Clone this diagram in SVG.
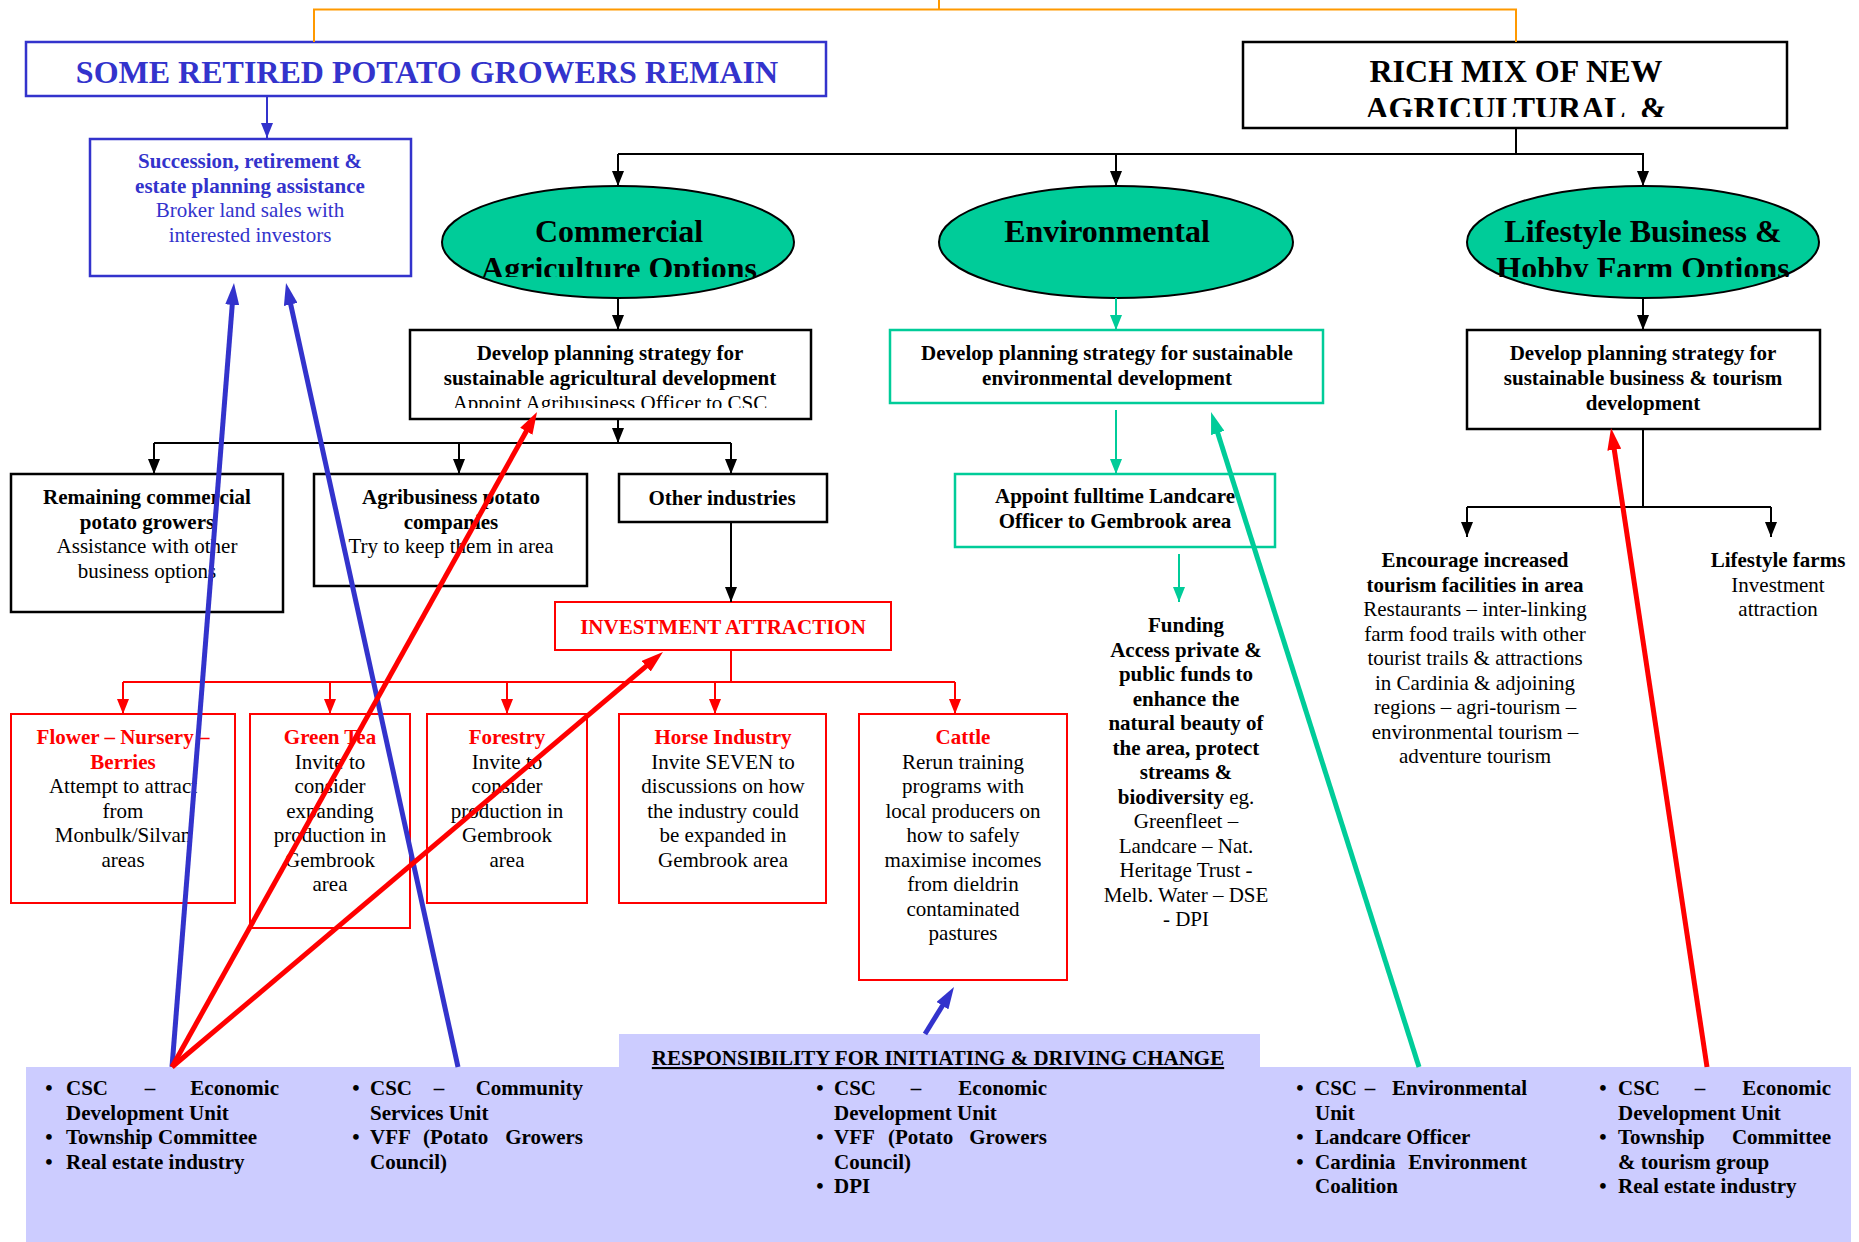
<svg xmlns="http://www.w3.org/2000/svg" width="1859" height="1242" viewBox="0 0 1859 1242">
<style>
text { font-family: "Liberation Serif", "Times New Roman", serif; font-size: 21px; fill: #000; }
.c { text-anchor: middle; }
.e { text-anchor: end; }
.b { font-weight: bold; }
.big { font-size: 32px; font-weight: bold; }
.blue { fill: #3333CC; }
.red { fill: #FF0000; }
.box { fill: #fff; stroke: #000; stroke-width: 2.5; }
.bbox { fill: #fff; stroke: #3333CC; stroke-width: 2.5; }
.gbox { fill: #fff; stroke: #00CC99; stroke-width: 2.5; }
.rbox { fill: #fff; stroke: #FF0000; stroke-width: 2; }
.ell { fill: #00CC99; stroke: #000; stroke-width: 2; }
.ck { stroke: #000; stroke-width: 2; fill: none; }
.cg { stroke: #00CC99; stroke-width: 2; fill: none; }
.cr { stroke: #FF0000; stroke-width: 2; fill: none; }
.cb { stroke: #3333CC; stroke-width: 2; fill: none; }
.co { stroke: #FF9900; stroke-width: 2; fill: none; }
.long { stroke-width: 5; }
</style>
<defs>
<marker id="ak" viewBox="0 0 15 12" refX="15" refY="6" markerWidth="15" markerHeight="12" markerUnits="userSpaceOnUse" orient="auto"><path d="M0,0 L15,6 L0,12 z" fill="#000"/></marker>
<marker id="ag" viewBox="0 0 15 12" refX="15" refY="6" markerWidth="15" markerHeight="12" markerUnits="userSpaceOnUse" orient="auto"><path d="M0,0 L15,6 L0,12 z" fill="#00CC99"/></marker>
<marker id="ar" viewBox="0 0 15 12" refX="15" refY="6" markerWidth="15" markerHeight="12" markerUnits="userSpaceOnUse" orient="auto"><path d="M0,0 L15,6 L0,12 z" fill="#FF0000"/></marker>
<marker id="ab" viewBox="0 0 15 12" refX="15" refY="6" markerWidth="15" markerHeight="12" markerUnits="userSpaceOnUse" orient="auto"><path d="M0,0 L15,6 L0,12 z" fill="#3333CC"/></marker>
<marker id="Lr" viewBox="0 0 22 14" refX="2" refY="7" markerWidth="22" markerHeight="14" markerUnits="userSpaceOnUse" orient="auto"><path d="M0,0 L22,7 L0,14 z" fill="#FF0000"/></marker>
<marker id="Lb" viewBox="0 0 22 14" refX="2" refY="7" markerWidth="22" markerHeight="14" markerUnits="userSpaceOnUse" orient="auto"><path d="M0,0 L22,7 L0,14 z" fill="#3333CC"/></marker>
<marker id="Lg" viewBox="0 0 22 14" refX="2" refY="7" markerWidth="22" markerHeight="14" markerUnits="userSpaceOnUse" orient="auto"><path d="M0,0 L22,7 L0,14 z" fill="#00CC99"/></marker>
<clipPath id="clipRich"><rect x="1243" y="42" width="544" height="75"/></clipPath>
<clipPath id="clipCom"><rect x="442" y="186" width="352" height="91"/></clipPath>
<clipPath id="clipLife"><rect x="1467" y="186" width="352" height="91"/></clipPath>
<clipPath id="clipAgri"><rect x="410" y="330" width="401" height="78"/></clipPath>
</defs>

<g id="responsibility-band">
<path d="M26,1067 H619 V1034 H1260 V1067 H1851 V1242 H26 Z" fill="#CCCCFF"/>
<text x="938" y="1065" class="c b" text-decoration="underline">RESPONSIBILITY FOR INITIATING &amp; DRIVING CHANGE</text>
<g id="col1" class="b">
<text x="49" y="1095" class="c b">•</text><text x="66" y="1095" class="b">CSC</text><text x="150" y="1095" class="c b">–</text><text x="279" y="1095" class="e b">Economic</text>
<text x="66" y="1119.5" class="b">Development Unit</text>
<text x="49" y="1144" class="c b">•</text><text x="66" y="1144" class="b">Township Committee</text>
<text x="49" y="1168.5" class="c b">•</text><text x="66" y="1168.5" class="b">Real estate industry</text>
</g>
<g id="col2">
<text x="356" y="1095" class="c b">•</text><text x="370" y="1095" class="b">CSC</text><text x="439" y="1095" class="c b">–</text><text x="583" y="1095" class="e b">Community</text>
<text x="370" y="1119.5" class="b">Services Unit</text>
<text x="356" y="1144" class="c b">•</text><text x="370" y="1144" class="b">VFF</text><text x="423" y="1144" class="b">(Potato</text><text x="583" y="1144" class="e b">Growers</text>
<text x="370" y="1168.5" class="b">Council)</text>
</g>
<g id="col3">
<text x="820" y="1095" class="c b">•</text><text x="834" y="1095" class="b">CSC</text><text x="916" y="1095" class="c b">–</text><text x="1047" y="1095" class="e b">Economic</text>
<text x="834" y="1119.5" class="b">Development Unit</text>
<text x="820" y="1144" class="c b">•</text><text x="834" y="1144" class="b">VFF</text><text x="888" y="1144" class="b">(Potato</text><text x="1047" y="1144" class="e b">Growers</text>
<text x="834" y="1168.5" class="b">Council)</text>
<text x="820" y="1193" class="c b">•</text><text x="834" y="1193" class="b">DPI</text>
</g>
<g id="col4">
<text x="1300" y="1095" class="c b">•</text><text x="1315" y="1095" class="b">CSC</text><text x="1370" y="1095" class="c b">–</text><text x="1527" y="1095" class="e b">Environmental</text>
<text x="1315" y="1119.5" class="b">Unit</text>
<text x="1300" y="1144" class="c b">•</text><text x="1315" y="1144" class="b">Landcare Officer</text>
<text x="1300" y="1168.5" class="c b">•</text><text x="1315" y="1168.5" class="b">Cardinia</text><text x="1527" y="1168.5" class="e b">Environment</text>
<text x="1315" y="1193" class="b">Coalition</text>
</g>
<g id="col5">
<text x="1603" y="1095" class="c b">•</text><text x="1618" y="1095" class="b">CSC</text><text x="1700" y="1095" class="c b">–</text><text x="1831" y="1095" class="e b">Economic</text>
<text x="1618" y="1119.5" class="b">Development Unit</text>
<text x="1603" y="1144" class="c b">•</text><text x="1618" y="1144" class="b">Township</text><text x="1831" y="1144" class="e b">Committee</text>
<text x="1618" y="1168.5" class="b">&amp; tourism group</text>
<text x="1603" y="1193" class="c b">•</text><text x="1618" y="1193" class="b">Real estate industry</text>
</g>
</g>

<g id="retired-growers">
<rect x="26" y="42" width="800" height="54" class="bbox"/>
<text x="427" y="83" class="c big blue">SOME RETIRED POTATO GROWERS REMAIN</text>
</g>
<g id="succession">
<rect x="90" y="139" width="321" height="137" class="bbox"/>
<text x="250" y="168" class="c b blue">Succession, retirement &amp;</text>
<text x="250" y="192.5" class="c b blue">estate planning assistance</text>
<text x="250" y="217" class="c blue">Broker land sales with</text>
<text x="250" y="241.5" class="c blue">interested investors</text>
</g>
<g id="rich-mix">
<rect x="1243" y="42" width="544" height="86" class="box"/>
<text x="1516" y="82" class="c big">RICH MIX OF NEW</text>
<text x="1516" y="119" class="c big" clip-path="url(#clipRich)" xml:space="preserve">AGRICULTURAL  &amp;</text>
</g>
<g id="commercial">
<ellipse cx="618" cy="242" rx="176" ry="56" class="ell"/>
<text x="619" y="242" class="c big">Commercial</text>
<text x="619" y="279" class="c big" clip-path="url(#clipCom)">Agriculture Options</text>
</g>
<g id="environmental">
<ellipse cx="1116" cy="242" rx="177" ry="56" class="ell"/>
<text x="1107" y="242" class="c big">Environmental</text>
</g>
<g id="lifestyle">
<ellipse cx="1643" cy="242" rx="176" ry="56" class="ell"/>
<text x="1643" y="242" class="c big">Lifestyle Business &amp;</text>
<text x="1643" y="279" class="c big" clip-path="url(#clipLife)">Hobby Farm Options</text>
</g>
<g id="agri-strategy">
<rect x="410" y="330" width="401" height="89" class="box"/>
<text x="610" y="360" class="c b">Develop planning strategy for</text>
<text x="610" y="385" class="c b">sustainable agricultural development</text>
<text x="610" y="410" class="c" clip-path="url(#clipAgri)">Appoint Agribusiness Officer to CSC</text>
</g>
<g id="remaining-growers">
<rect x="11" y="474" width="272" height="138" class="box"/>
<text x="147" y="504" class="c b">Remaining commercial</text>
<text x="147" y="528.5" class="c b">potato growers</text>
<text x="147" y="553" class="c">Assistance with other</text>
<text x="147" y="577.5" class="c">business options</text>
</g>
<g id="agribusiness">
<rect x="314" y="474" width="273" height="112" class="box"/>
<text x="451" y="504" class="c b">Agribusiness potato</text>
<text x="451" y="528.5" class="c b">companies</text>
<text x="451" y="553" class="c">Try to keep them in area</text>
</g>
<g id="other-industries">
<rect x="619" y="474" width="208" height="48" class="box"/>
<text x="722" y="505" class="c b">Other industries</text>
</g>
<g id="investment">
<rect x="555" y="602" width="336" height="48" class="rbox"/>
<text x="723" y="634" class="c b red">INVESTMENT ATTRACTION</text>
</g>
<g id="flower">
<rect x="11" y="714" width="224" height="189" class="rbox"/>
<text x="123" y="744" class="c b red">Flower – Nursery –</text>
<text x="123" y="768.5" class="c b red">Berries</text>
<text x="123" y="793" class="c">Attempt to attract</text>
<text x="123" y="817.5" class="c">from</text>
<text x="123" y="842" class="c">Monbulk/Silvan</text>
<text x="123" y="866.5" class="c">areas</text>
</g>
<g id="green-tea">
<rect x="250" y="714" width="160" height="214" class="rbox"/>
<text x="330" y="744" class="c b red">Green Tea</text>
<text x="330" y="768.5" class="c">Invite to</text>
<text x="330" y="793" class="c">consider</text>
<text x="330" y="817.5" class="c">expanding</text>
<text x="330" y="842" class="c">production in</text>
<text x="330" y="866.5" class="c">Gembrook</text>
<text x="330" y="891" class="c">area</text>
</g>
<g id="forestry">
<rect x="427" y="714" width="160" height="189" class="rbox"/>
<text x="507" y="744" class="c b red">Forestry</text>
<text x="507" y="768.5" class="c">Invite to</text>
<text x="507" y="793" class="c">consider</text>
<text x="507" y="817.5" class="c">production in</text>
<text x="507" y="842" class="c">Gembrook</text>
<text x="507" y="866.5" class="c">area</text>
</g>
<g id="horse">
<rect x="619" y="714" width="207" height="189" class="rbox"/>
<text x="723" y="744" class="c b red">Horse Industry</text>
<text x="723" y="768.5" class="c">Invite SEVEN to</text>
<text x="723" y="793" class="c">discussions on how</text>
<text x="723" y="817.5" class="c">the industry could</text>
<text x="723" y="842" class="c">be expanded in</text>
<text x="723" y="866.5" class="c">Gembrook area</text>
</g>
<g id="cattle">
<rect x="859" y="714" width="208" height="266" class="rbox"/>
<text x="963" y="744" class="c b red">Cattle</text>
<text x="963" y="768.5" class="c">Rerun training</text>
<text x="963" y="793" class="c">programs with</text>
<text x="963" y="817.5" class="c">local producers on</text>
<text x="963" y="842" class="c">how to safely</text>
<text x="963" y="866.5" class="c">maximise incomes</text>
<text x="963" y="891" class="c">from dieldrin</text>
<text x="963" y="915.5" class="c">contaminated</text>
<text x="963" y="940" class="c">pastures</text>
</g>
<g id="env-strategy">
<rect x="890" y="330" width="433" height="73" class="gbox"/>
<text x="1107" y="360" class="c b">Develop planning strategy for sustainable</text>
<text x="1107" y="385" class="c b">environmental development</text>
</g>
<g id="landcare">
<rect x="955" y="474" width="320" height="73" class="gbox"/>
<text x="1115" y="503" class="c b">Appoint fulltime Landcare</text>
<text x="1115" y="528" class="c b">Officer to Gembrook area</text>
</g>
<g id="funding">
<text x="1186" y="632" class="c b">Funding</text>
<text x="1186" y="656.5" class="c b">Access private &amp;</text>
<text x="1186" y="681" class="c b">public funds to</text>
<text x="1186" y="705.5" class="c b">enhance the</text>
<text x="1186" y="730" class="c b">natural beauty of</text>
<text x="1186" y="754.5" class="c b">the area, protect</text>
<text x="1186" y="779" class="c b">streams &amp;</text>
<text x="1186" y="803.5" class="c"><tspan class="b">biodiversity</tspan> eg.</text>
<text x="1186" y="828" class="c">Greenfleet –</text>
<text x="1186" y="852.5" class="c">Landcare – Nat.</text>
<text x="1186" y="877" class="c">Heritage Trust -</text>
<text x="1186" y="901.5" class="c">Melb. Water – DSE</text>
<text x="1186" y="926" class="c">- DPI</text>
</g>
<g id="business-strategy">
<rect x="1467" y="330" width="353" height="99" class="box"/>
<text x="1643" y="360" class="c b">Develop planning strategy for</text>
<text x="1643" y="385" class="c b">sustainable business &amp; tourism</text>
<text x="1643" y="409.5" class="c b">development</text>
</g>
<g id="tourism">
<text x="1475" y="567" class="c b">Encourage increased</text>
<text x="1475" y="591.5" class="c b">tourism facilities in area</text>
<text x="1475" y="616" class="c">Restaurants – inter-linking</text>
<text x="1475" y="640.5" class="c">farm food trails with other</text>
<text x="1475" y="665" class="c">tourist trails &amp; attractions</text>
<text x="1475" y="689.5" class="c">in Cardinia &amp; adjoining</text>
<text x="1475" y="714" class="c">regions – agri-tourism –</text>
<text x="1475" y="738.5" class="c">environmental tourism –</text>
<text x="1475" y="763" class="c">adventure tourism</text>
</g>
<g id="lifestyle-farms">
<text x="1778" y="567" class="c b">Lifestyle farms</text>
<text x="1778" y="591.5" class="c">Investment</text>
<text x="1778" y="616" class="c">attraction</text>
</g>

<g id="connectors">
<path class="co" d="M314,42 V9.5 H1516 V42 M939,9.5 V0"/>
<path class="cb" d="M267,96 V138" marker-end="url(#ab)"/>
<path class="ck" d="M1516,128 V154 M618,154 H1644"/>
<path class="ck" d="M618,154 V186" marker-end="url(#ak)"/>
<path class="ck" d="M1116,154 V186" marker-end="url(#ak)"/>
<path class="ck" d="M1643,154 V186" marker-end="url(#ak)"/>
<path class="ck" d="M618,298 V330" marker-end="url(#ak)"/>
<path class="ck" d="M618,419 V443" marker-end="url(#ak)"/>
<path class="ck" d="M154,443 H731"/>
<path class="ck" d="M154,443 V474" marker-end="url(#ak)"/>
<path class="ck" d="M459,443 V474" marker-end="url(#ak)"/>
<path class="ck" d="M731,443 V474" marker-end="url(#ak)"/>
<path class="ck" d="M731,522 V602" marker-end="url(#ak)"/>
<path class="cr" d="M731,650 V682 M123,682 H955"/>
<path class="cr" d="M123,682 V714" marker-end="url(#ar)"/>
<path class="cr" d="M330,682 V714" marker-end="url(#ar)"/>
<path class="cr" d="M507,682 V714" marker-end="url(#ar)"/>
<path class="cr" d="M715,682 V714" marker-end="url(#ar)"/>
<path class="cr" d="M955,682 V714" marker-end="url(#ar)"/>
<path class="cg" d="M1116,298 V330" marker-end="url(#ag)"/>
<path class="cg" d="M1116,410 V474" marker-end="url(#ag)"/>
<path class="cg" d="M1179,554 V602" marker-end="url(#ag)"/>
<path class="ck" d="M1643,298 V330" marker-end="url(#ak)"/>
<path class="ck" d="M1643,429 V507 M1467,507 H1771"/>
<path class="ck" d="M1467,507 V537" marker-end="url(#ak)"/>
<path class="ck" d="M1771,507 V537" marker-end="url(#ak)"/>
<path class="cb long" d="M172,1067 L232.4,302.9" marker-end="url(#Lb)"/>
<path class="cb long" d="M458,1067 L290.3,302.5" marker-end="url(#Lb)"/>
<path class="cr long" d="M172,1067 L527.3,429.5" marker-end="url(#Lr)"/>
<path class="cr long" d="M172,1067 L647.7,664.9" marker-end="url(#Lr)"/>
<path class="cb long" d="M925,1034 L943.5,1004" marker-end="url(#Lb)"/>
<path class="cg long" d="M1419,1067 L1217.1,431.1" marker-end="url(#Lg)"/>
<path class="cr long" d="M1707,1067 L1614,447.8" marker-end="url(#Lr)"/>
</g>
</svg>
